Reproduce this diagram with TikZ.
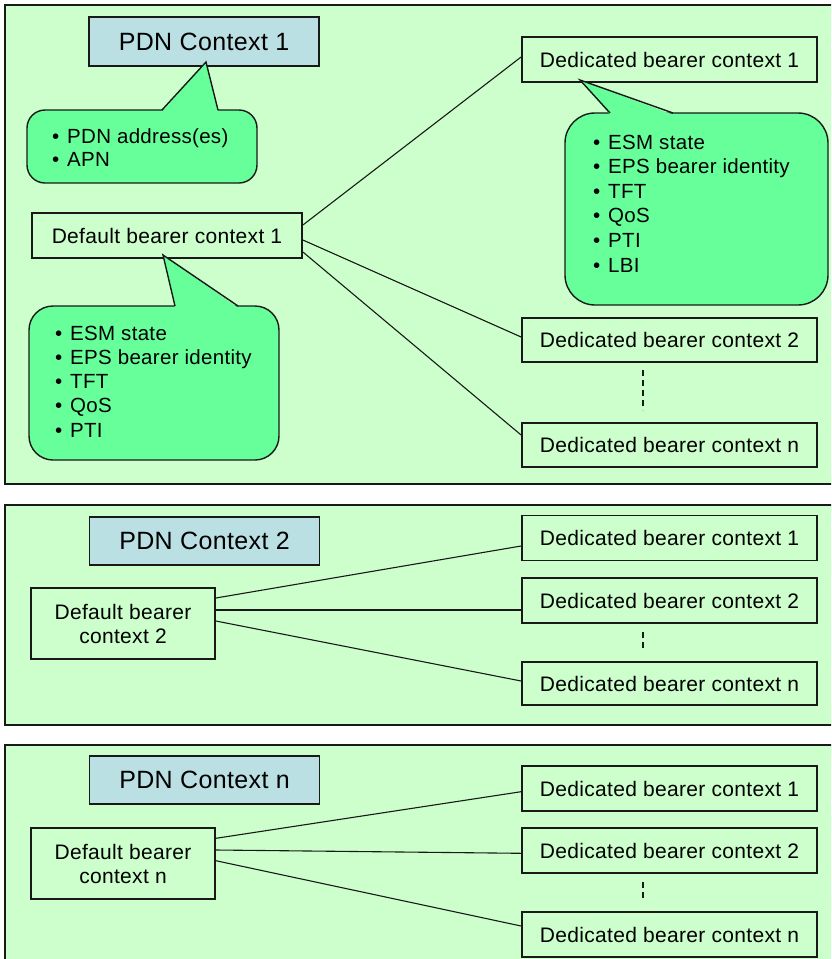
\documentclass[tikz,border=0pt]{standalone}
\usepackage{fontspec}
\setmainfont{Liberation Sans}[LetterSpace=1.5]
\definecolor{panelgreen}{RGB}{204,255,204}
\definecolor{calloutgreen}{RGB}{102,255,153}
\definecolor{pdnblue}{RGB}{187,224,227}
\definecolor{linec}{RGB}{25,25,25}
\newcommand\bxfont{\fontsize{21}{24}\selectfont}
\newcommand\pdnfnt{\fontsize{25}{28}\selectfont}
\newcommand\clfont{\fontsize{20.5}{24.3}\selectfont}
\newcommand\clfonta{\fontsize{20.5}{23}\selectfont}
\newcommand\bul{\makebox[15pt][l]{•}}
\begin{document}
\begin{tikzpicture}[x=1pt,y=-1pt,
  panel/.style={fill=panelgreen, draw=linec, line width=1.6pt},
  box/.style={draw=linec, line width=1.8pt, fill=panelgreen, inner sep=0pt, font=\bxfont, align=center},
  ded/.style={box, minimum width=295pt, minimum height=45pt},
  defb/.style={box, minimum width=184pt, minimum height=71pt},
  pdn/.style={box, fill=pdnblue, font=\pdnfnt, minimum width=230pt, minimum height=48pt},
  callout/.style={draw=linec, line width=1.4pt, fill=calloutgreen},
  cltext/.style={anchor=west, inner sep=0pt, align=left, font=\clfont},
  conn/.style={draw=linec, line width=1.1pt},
  dots/.style={conn, dash pattern=on 6pt off 4pt}]
\useasboundingbox (0,0) rectangle (831,959);
\clip (0,0) rectangle (831,959);
% panels
\draw[panel] (5,5) rectangle (840,484);
\draw[panel] (5,505) rectangle (840,725);
\draw[panel] (5,745) rectangle (840,975);

% ---- panel 1 ----
\node[pdn, minimum height=49pt] (pdn1) at (204,41.5) {PDN Context 1};
\node[box, minimum width=270pt, minimum height=45pt] (def1) at (167,235.5) {Default bearer context 1};
\node[ded] (d11) at (669.5,59.5) {Dedicated bearer context 1};
\node[ded, minimum height=44pt] (d12) at (669.5,340) {Dedicated bearer context 2};
\node[ded, minimum height=44pt] (d1n) at (669.5,445) {Dedicated bearer context n};
\draw[conn] ([yshift=10.5pt]def1.east) -- ([yshift=2.5pt]d11.west);
\draw[conn] ([yshift=-4.5pt]def1.east) -- ([yshift=3pt]d12.west);
\draw[conn] ([yshift=-16.5pt]def1.east) -- ([yshift=10pt]d1n.west);
\coordinate (k1a) at (643,370);
\coordinate (k1b) at (643,410);
\draw[dots] (k1a) -- (k1b);

% callout 1
\node[callout, minimum width=230pt, minimum height=73pt, rounded corners=18pt] (cb1) at (142,146.5) {};
\fill[calloutgreen] (162,111.6) -- (206,62) -- (218,111.6) -- cycle;
\draw[callout, fill=none] (162,110) -- (206,62) -- (218,110);
\node[cltext, font=\clfonta] (cb1t) at (52,148) {\bul PDN address(es)\\\bul APN};

% callout 2
\node[callout, minimum width=250pt, minimum height=154pt, rounded corners=24pt] (cb2) at (154,383) {};
\fill[calloutgreen] (175,307.6) -- (163,255) -- (238,307.6) -- cycle;
\draw[callout, fill=none] (175,306) -- (163,255) -- (238,306);
\node[cltext] (cb2t) at (55,381.5) {\bul ESM state\\\bul EPS bearer identity\\\bul TFT\\\bul QoS\\\bul PTI};

% callout 3
\node[callout, minimum width=263pt, minimum height=192pt, rounded corners=30pt] (cb3) at (696.5,209) {};
\fill[calloutgreen] (610,114.6) -- (580,80) -- (673,114.6) -- cycle;
\draw[callout, fill=none] (610,113) -- (580,80) -- (673,113);
\node[cltext, font=\fontsize{20.5}{24.6}\selectfont] (cb3t) at (593,203.5) {\bul ESM state\\\bul EPS bearer identity\\\bul TFT\\\bul QoS\\\bul PTI\\\bul LBI};

% ---- panel 2 ----
\node[pdn] (pdn2) at (204.5,541) {PDN Context 2};
\node[defb] (def2) at (123,623.5) {Default bearer\\context 2};
\node[ded] (d21) at (669.5,538) {Dedicated bearer context 1};
\node[ded] (d22) at (669.5,600.5) {Dedicated bearer context 2};
\node[ded, minimum height=43pt] (d2n) at (669.5,683.5) {Dedicated bearer context n};
\draw[conn] ([yshift=25.5pt]def2.east) -- ([yshift=-8pt]d21.west);
\draw[conn] ([yshift=13.5pt]def2.east) -- ([yshift=-9.5pt]d22.west);
\draw[conn] ([yshift=2.5pt]def2.east) -- ([yshift=2.5pt]d2n.west);
\coordinate (k2a) at (643,632);
\coordinate (k2b) at (643,650);
\draw[dots] (k2a) -- (k2b);

% ---- panel 3 ----
\node[pdn] (pdn3) at (204.5,780) {PDN Context n};
\node[defb] (def3) at (123,863.5) {Default bearer\\context n};
\node[ded] (d31) at (669.5,788.5) {Dedicated bearer context 1};
\node[ded] (d32) at (669.5,850.5) {Dedicated bearer context 2};
\node[ded] (d3n) at (669.5,934.5) {Dedicated bearer context n};
\draw[conn] ([yshift=25.2pt]def3.east) -- ([yshift=-3.2pt]d31.west);
\draw[conn] ([yshift=13.5pt]def3.east) -- ([yshift=-2.8pt]d32.west);
\draw[conn] ([yshift=2.8pt]def3.east) -- ([yshift=8.5pt]d3n.west);
\coordinate (k3a) at (643,882);
\coordinate (k3b) at (643,900);
\draw[dots] (k3a) -- (k3b);
\end{tikzpicture}
\end{document}
